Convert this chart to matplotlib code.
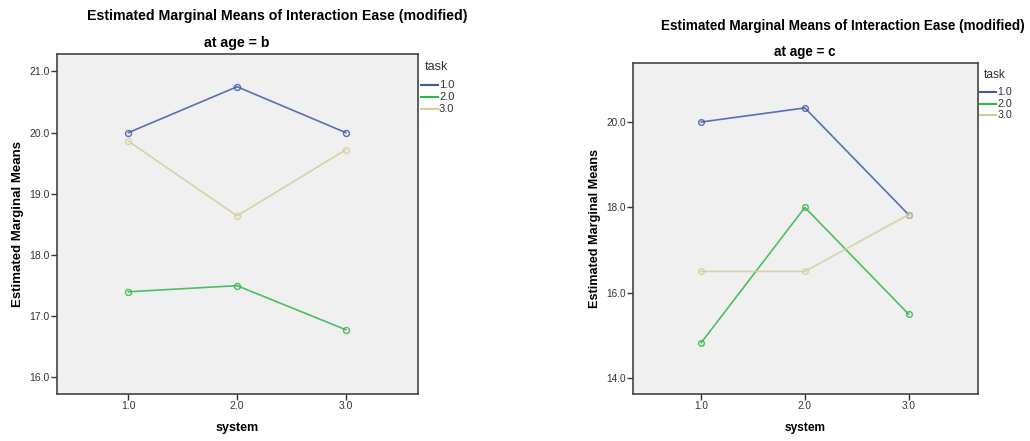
import matplotlib
matplotlib.use("Agg")
import matplotlib.pyplot as plt
from matplotlib.lines import Line2D

plt.rcParams['font.family'] = ['Liberation Sans', 'DejaVu Sans']

systems = [1.0, 2.0, 3.0]
system_labels = ["1.0", "2.0", "3.0"]
tasks = ["1.0", "2.0", "3.0"]

# age = b
b_task1 = [20.0, 20.75, 20.0]
b_task2 = [17.40, 17.50, 16.78]
b_task3 = [19.86, 18.64, 19.72]
b_yticks = [16.0, 17.0, 18.0, 19.0, 20.0, 21.0]

# age = c
c_task1 = [20.0, 20.33, 17.83]
c_task2 = [14.83, 18.0, 15.50]
c_task3 = [16.50, 16.50, 17.83]
c_yticks = [14.0, 16.0, 18.0, 20.0]

colors = ["#3E58AC", "#2EB848", "#D3CE97"]
title_main = "Estimated Marginal Means of Interaction Ease (modified)"

fig = plt.figure(figsize=(10.30, 4.41), dpi=100)

panels = [
    dict(rect=[0.0550, 0.1066, 0.3511, 0.7703], series=[b_task1, b_task2, b_task3],
         yticks=b_yticks, ylim=(15.73, 21.28), sub="at age = b",
         t1=(277, 16), t2=(237, 43), leg=(421, 67), k=1.0),
    dict(rect=[0.6143, 0.1066, 0.3350, 0.7513], series=[c_task1, c_task2, c_task3],
         yticks=c_yticks, ylim=(13.63, 21.39), sub="at age = c",
         t1=(843, 26), t2=(805, 52), leg=(980, 75), k=0.955),
]

W, H = 1030, 441
for p in panels:
    k = p["k"]
    ax = fig.add_axes(p["rect"])
    ax.set_facecolor("#F0F0F0")
    for s, c in zip(p["series"], colors):
        ax.plot(systems, s, color=c, lw=1.2, marker="o", ms=4.3 * k, mfc="none",
                mec=c, mew=1.0, alpha=0.85)
    ax.set_xlim(0.34, 3.667)
    ax.set_ylim(*p["ylim"])
    ax.set_xticks(systems)
    ax.set_xticklabels(system_labels)
    ax.set_yticks(p["yticks"])
    ax.set_yticklabels([f"{v:.1f}" for v in p["yticks"]])
    ax.tick_params(direction="out", length=4, width=1, color="#333333",
                   labelsize=7.5 * k, labelcolor="#333333", pad=1)
    for sp in ax.spines.values():
        sp.set_color("#444444")
        sp.set_linewidth(1.2)
    ax.set_xlabel("system", fontsize=9 * k, fontweight="bold", labelpad=8)
    ax.set_ylabel("Estimated Marginal Means", fontsize=9.5 * k, fontweight="bold", labelpad=4)
    # title texts
    fig.text(p["t1"][0] / W, 1 - p["t1"][1] / H, title_main, ha="center", va="center",
             fontsize=10.2 * k, fontweight="bold")
    fig.text(p["t2"][0] / W, 1 - p["t2"][1] / H, p["sub"], ha="center", va="center",
             fontsize=10.2 * k, fontweight="bold")
    # legend
    lx, ly = p["leg"]
    fig.text((lx + 4) / W, 1 - ly / H, "task", ha="left", va="center", fontsize=9 * k,
             color="#333333")
    for i, (t, c) in enumerate(zip(tasks, colors)):
        yy = 1 - (ly + 18 * k + i * 12 * k) / H
        fig.add_artist(Line2D([lx / W, (lx + 17 * k) / W], [yy, yy], color=c, lw=1.5,
                              transform=fig.transFigure))
        fig.text((lx + 18 * k) / W, yy, t, ha="left", va="center", fontsize=8 * k,
                 color="#333333")

fig.savefig("out.png", dpi=100)
